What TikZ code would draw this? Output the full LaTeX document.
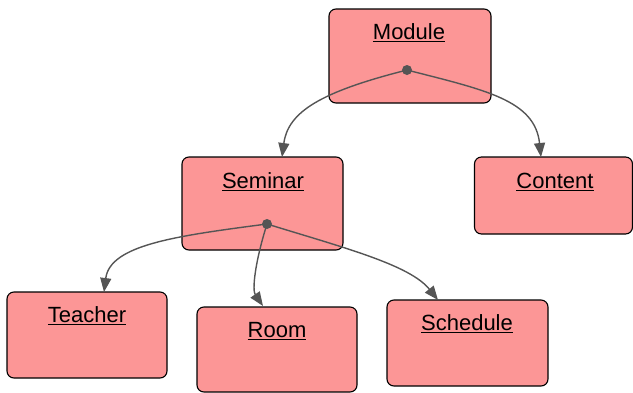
\documentclass[tikz,border=0pt]{standalone}
\usepackage{fontspec}
\setmainfont{Liberation Sans}
\usetikzlibrary{arrows.meta}
\definecolor{boxfill}{RGB}{252,150,150}
\definecolor{edgegray}{RGB}{85,85,85}
\tikzset{
  entity/.style={draw=black, fill=boxfill, line width=1.1pt, rounded corners=7pt, inner sep=0pt},
  etext/.style={font=\fontsize{22}{25}\selectfont, inner sep=0pt, anchor=center},
  conn/.style={draw=edgegray, line width=1.4pt, -{Triangle[length=14pt,width=11pt]}},
  hub/.style={circle, fill=edgegray, minimum size=10pt, inner sep=0pt}
}
\begin{document}
\begin{tikzpicture}[x=1pt,y=-1pt]
\useasboundingbox (0,0) rectangle (633,392);
% boxes
\node[entity, minimum width=162pt, minimum height=94pt] (module) at (410,56) {};
\node[entity, minimum width=161pt, minimum height=93pt] (seminar) at (262.5,203.5) {};
\node[entity, minimum width=158pt, minimum height=77pt] (content) at (553.5,195.5) {};
\node[entity, minimum width=160pt, minimum height=86pt] (teacher) at (87,335) {};
\node[entity, minimum width=160pt, minimum height=85pt] (room) at (277,349.5) {};
\node[entity, minimum width=161pt, minimum height=86pt] (schedule) at (467.5,343) {};
% texts
\node[etext] (tmodule) at (409,33) {\underline{Module}};
\node[etext] (tseminar) at (263,182) {\underline{Seminar}};
\node[etext] (tcontent) at (555,182) {\underline{Content}};
\node[etext] (tteacher) at (87,316) {\underline{Teacher}};
\node[etext] (troom) at (277,331) {\underline{Room}};
\node[etext] (tschedule) at (467,324) {\underline{Schedule}};
% hubs
\coordinate (hm) at (407,70);
\coordinate (hs) at (267,224);
\coordinate (eseminar) at (282,157);
\coordinate (econtent) at (541,157);
\coordinate (eteacher) at (104,292);
\coordinate (eroom) at (263,306);
\coordinate (eschedule) at (438,300);
\draw[conn] (hm) .. controls (320,92) and (288,112) .. (eseminar);
\draw[conn] (hm) .. controls (485,90) and (535,100) .. (econtent);
\draw[conn] (hs) .. controls (175,236) and (110,245) .. (eteacher);
\draw[conn] (hs) .. controls (255,262) and (252,290) .. (eroom);
\draw[conn] (hs) .. controls (345,248) and (410,265) .. (eschedule);
\node[hub] (dm) at (hm) {};
\node[hub] (ds) at (hs) {};
\end{tikzpicture}
\end{document}
